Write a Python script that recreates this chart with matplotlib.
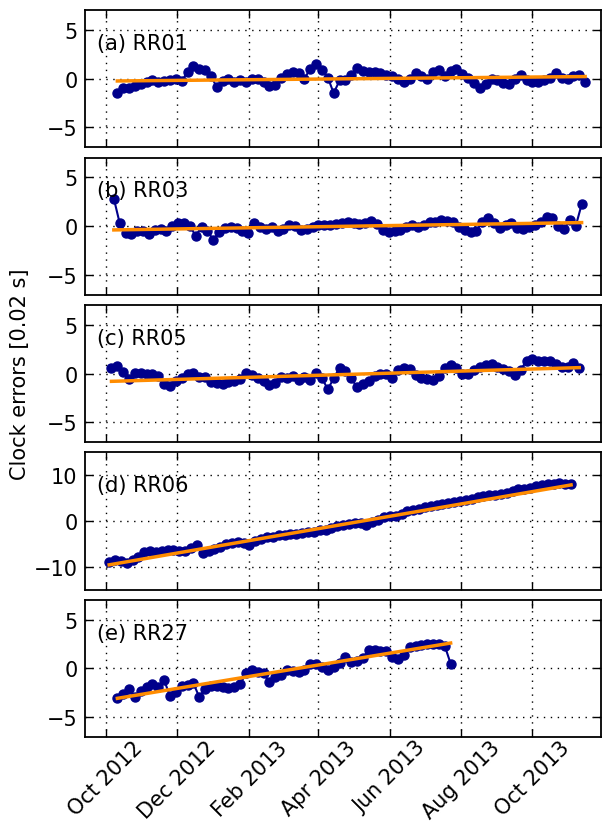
import matplotlib
matplotlib.use('Agg')
import matplotlib.pyplot as plt
import matplotlib.dates as mdates
import pandas as pd

# Clock errors (units of 0.02 s), one value every 5 days
stations = ['RR01', 'RR03', 'RR05', 'RR06', 'RR27']
letters = ['a', 'b', 'c', 'd', 'e']
start_dates = ['2012-10-11', '2012-10-08', '2012-10-06', '2012-10-04', '2012-10-11']
step_days = 5

rr01 = [-1.5, -1.0, -1.0, -0.8, -0.6, -0.4, -0.2, -0.4, -0.3, -0.2,
        -0.1, -0.3, 0.7, 1.3, 1.0, 0.9, 0.3, -0.9, -0.3, 0.0,
        -0.4, -0.2, -0.4, -0.1, 0.0, -0.4, -0.8, -0.7, 0.1, 0.5,
        0.7, 0.6, 0.0, 1.0, 1.5, 0.9, 0.1, -1.5, -0.2, -0.2,
        0.4, 1.1, 0.8, 0.7, 0.7, 0.6, 0.4, 0.3, -0.1, -0.4,
        0.0, 0.6, 0.3, 0.0, 0.7, 0.9, 0.3, 0.8, 1.0, 0.5,
        0.1, -0.5, -1.0, -0.6, 0.0, -0.2, -0.5, -0.6, -0.1, 0.4,
        -0.2, -0.4, -0.4, -0.2, 0.1, 0.6, 0.1, -0.1, 0.3, 0.4,
        -0.4]
rr03 = [2.8, 0.3, -0.7, -0.8, -0.5, -0.5, -0.8, -0.4, -0.3, -0.5,
        0.0, 0.3, 0.3, 0.0, -1.0, -0.1, -0.5, -1.4, -0.6, -0.2,
        -0.1, -0.2, -0.5, -0.7, 0.3, -0.1, -0.3, -0.1, -0.5, -0.3,
        0.1, 0.0, -0.4, -0.3, -0.1, 0.1, 0.1, 0.1, 0.2, 0.3,
        0.4, 0.3, 0.2, 0.3, 0.5, 0.2, -0.4, -0.6, -0.5, -0.4,
        -0.1, 0.1, -0.1, 0.1, 0.4, 0.4, 0.6, 0.5, 0.4, -0.1,
        -0.4, -0.6, -0.5, 0.4, 0.8, 0.3, -0.2, 0.1, 0.3, -0.2,
        -0.3, -0.1, 0.1, 0.4, 0.9, 0.8, 0.0, -0.3, 0.6, 0.0,
        2.2]
rr05 = [0.6, 0.8, 0.2, -0.6, 0.1, 0.1, 0.0, -0.1, -0.3, -1.1,
        -1.3, -0.8, -0.5, -0.1, 0.1, -0.4, -0.4, -0.9, -1.0, -1.1,
        -0.9, -0.8, -0.6, 0.1, -0.2, -0.5, -0.8, -1.2, -1.0, -0.4,
        -0.5, -0.3, -0.7, -0.4, -0.7, 0.1, -0.5, -1.6, -0.5, 0.6,
        0.3, -0.5, -1.4, -1.1, -0.8, -0.3, 0.0, -0.1, -0.5, 0.4,
        0.6, 0.5, -0.2, -0.5, -0.6, -0.7, -0.3, 0.6, 0.9, 0.6,
        -0.1, -0.1, 0.4, 0.7, 0.9, 1.0, 0.7, 0.5, 0.3, -0.2,
        0.4, 1.3, 1.5, 1.3, 1.3, 1.3, 1.0, 0.7, 0.7, 1.1,
        0.6]
rr06 = [-8.9, -8.5, -8.7, -9.1, -8.6, -7.8, -6.8, -6.6, -6.8, -6.5,
        -6.4, -6.4, -6.5, -6.6, -5.9, -5.2, -6.9, -6.6, -6.2, -5.8,
        -5.0, -4.8, -4.6, -4.8, -5.2, -4.3, -3.9, -3.6, -3.4, -3.1,
        -3.0, -2.8, -2.8, -2.7, -2.5, -2.3, -2.0, -1.9, -1.6, -1.1,
        -0.8, -0.6, -0.5, -0.4, -0.8, -0.2, 0.2, 0.9, 1.1, 1.1,
        1.6, 2.1, 2.3, 2.6, 3.0, 3.3, 3.5, 3.7, 3.9, 4.1,
        4.4, 4.6, 4.9, 5.2, 5.4, 5.6, 5.7, 6.0, 6.2, 6.6,
        7.0, 7.1, 7.3, 7.7, 7.9, 8.0, 8.2, 8.3, 8.2, 8.1]
rr27 = [-3.0, -2.6, -2.1, -2.9, -2.3, -1.9, -1.6, -1.9, -1.2, -2.8,
        -2.4, -1.8, -1.7, -1.5, -2.9, -2.1, -1.8, -1.8, -1.9, -2.0,
        -1.9, -1.6, -0.5, -0.2, -0.4, -0.5, -1.4, -0.9, -0.7, -0.2,
        -0.3, -0.4, -0.2, 0.5, 0.5, 0.2, -0.2, 0.2, 0.6, 1.2,
        0.7, 0.8, 1.1, 1.9, 1.9, 1.8, 1.8, 1.2, 1.0, 1.4,
        2.2, 2.3, 2.4, 2.5, 2.5, 2.5, 2.3, 0.5]
series = [rr01, rr03, rr05, rr06, rr27]

# linear trend, value at first and last day of each record
trend_start = [-0.25, -0.4, -0.8, -9.6, -3.05]
trend_end = [0.2, 0.35, 0.6, 7.9, 2.6]

ylims = [7, 7, 7, 15, 7]
yticks = [[-5, 0, 5], [-5, 0, 5], [-5, 0, 5], [-10, 0, 10], [-5, 0, 5]]

fig, axes = plt.subplots(5, 1, sharex=True, figsize=(6.03, 8.28), dpi=100)
fig.subplots_adjust(left=0.1403, right=0.9975, top=0.9867, bottom=0.1087, hspace=0.0766)

for i, ax in enumerate(axes):
    vals = series[i]
    dates = pd.date_range(start_dates[i], periods=len(vals), freq=f'{step_days}D')
    ax.plot(dates, vals, 'o-', color='darkblue', mec='darkblue', ms=6.5, lw=1.5)
    ax.plot([dates[0], dates[-1]], [trend_start[i], trend_end[i]],
            color='darkorange', lw=2.5)
    ax.set_ylim(-ylims[i], ylims[i])
    ax.set_yticks(yticks[i])
    ax.grid(True, ls=(0, (1, 4)), color='k', lw=1)
    ax.tick_params(direction='in', top=True, right=True, length=5.5, width=1,
                   labelsize=15, pad=5)
    for sp in ax.spines.values():
        sp.set_linewidth(1.3)
    ax.text(0.024, 0.76, f'({letters[i]}) {stations[i]}', transform=ax.transAxes,
            fontsize=15, va='center', ha='left')

axes[-1].set_xlim(pd.Timestamp('2012-09-13'), pd.Timestamp('2013-11-29'))
axes[-1].xaxis.set_major_locator(mdates.MonthLocator(bymonth=[2, 4, 6, 8, 10, 12]))
axes[-1].xaxis.set_major_formatter(mdates.DateFormatter('%b %Y'))
axes[-1].tick_params(axis='x', pad=0)
for lab in axes[-1].get_xticklabels():
    lab.set_rotation(45)
    lab.set_ha('center')

fig.text(0.033, 0.5477, 'Clock errors [0.02 s]', rotation=90, fontsize=15,
         ha='center', va='center')

fig.savefig('out.png', dpi=100)
